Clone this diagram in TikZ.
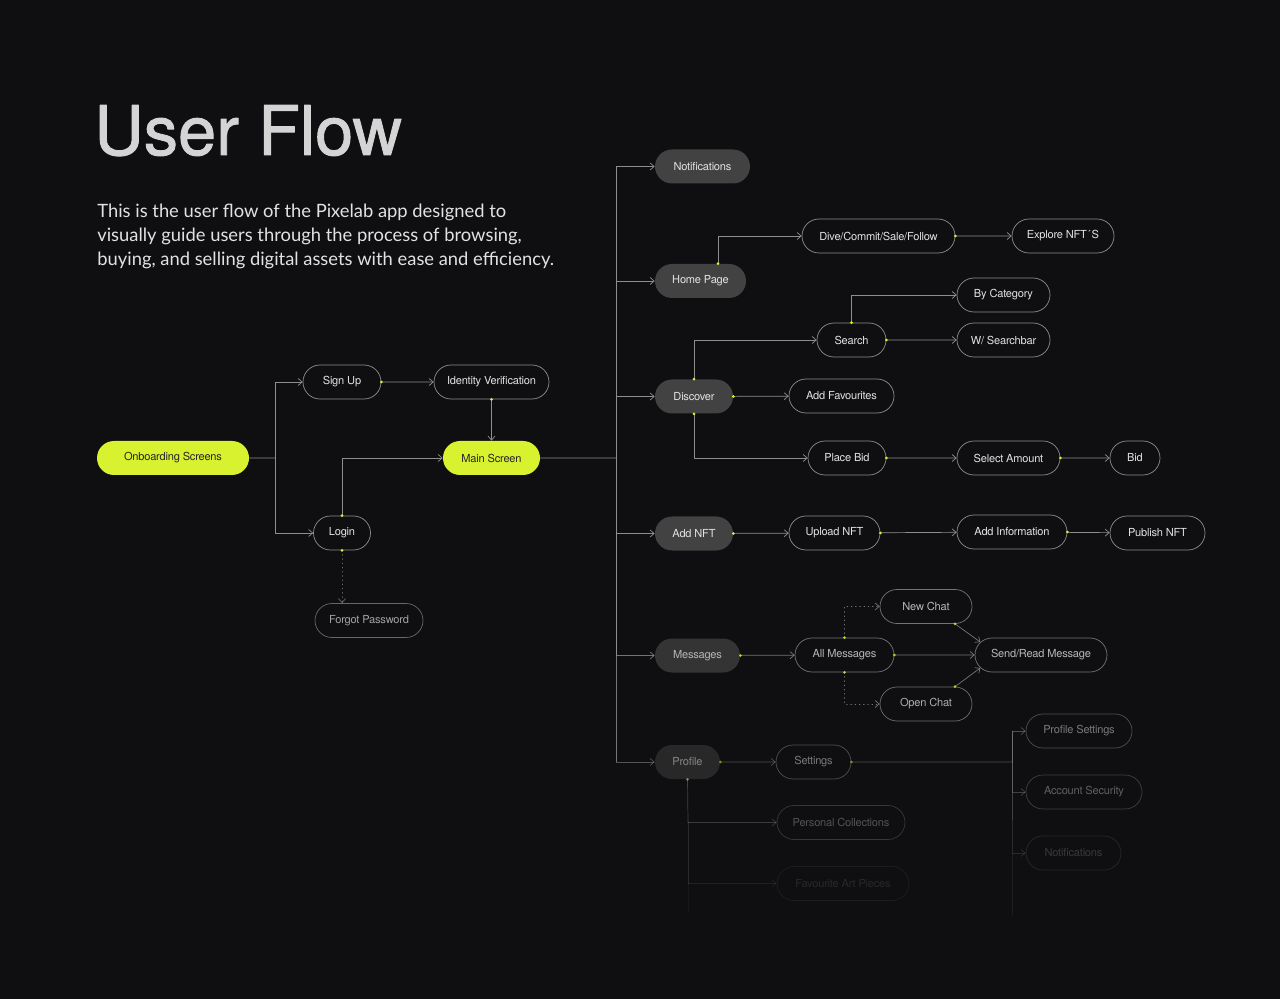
\documentclass[tikz,border=0pt]{standalone}
\usepackage{fontspec}
\setmainfont{TeX Gyre Heros}
\newfontfamily\bodyfont{Lato}
\newfontfamily\titlefont[FakeBold=1.3]{TeX Gyre Heros}
\newfontfamily\pillfont[LetterSpace=-2]{TeX Gyre Heros}
\usetikzlibrary{arrows.meta,shapes.misc}
\definecolor{bgdark}{HTML}{0F0E10}
\definecolor{lime}{HTML}{D9F230}
\definecolor{pillgray}{HTML}{424242}
\definecolor{edgegray}{HTML}{8E8E8E}
\definecolor{txtlight}{HTML}{E2E2E2}
\definecolor{titlegray}{HTML}{D4D4D4}
\newcommand\srcdot[1]{\fill[lime] (#1) circle (0.3mm);}
\begin{document}
\begin{tikzpicture}[x=0.2mm, y=-0.2mm, line join=round, line cap=round,
  pill/.style={shape=rounded rectangle, draw=edgegray, line width=.4pt,
    minimum height=6.8mm, minimum width=#1*0.2mm, inner sep=0pt,
    text=txtlight, font=\pillfont\fontsize{6.3}{7}\selectfont},
  limepill/.style={pill=#1, draw=none, fill=lime, text=black!85},
  graypill/.style={pill=#1, draw=none, fill=pillgray},
  link/.style={draw=edgegray, line width=.4pt, -{Straight Barb[length=0.8mm, width=1.4mm]}},
  plain/.style={draw=edgegray, line width=.4pt},
  dotlink/.style={link, dotted},
  dim/.style={opacity=#1}]
\fill[bgdark] (0,0) rectangle (1280,999);
\useasboundingbox (0,0) rectangle (1280,999);

\node[anchor=base west, inner sep=0pt, text=titlegray, font=\titlefont\fontsize{39}{40}\selectfont] (title) at (94,155) {User Flow};
\node[anchor=north west, inner sep=0pt, align=left, text=txtlight, font=\bodyfont\fontsize{10.45}{13.6}\selectfont] (intro) at (97,204)
  {This is the user flow of the Pixelab app designed to\\visually guide users through the process of browsing,\\buying, and selling digital assets with ease and efficiency.};

% onboarding
\node[limepill=152] (onboard) at (173,458) {Onboarding Screens};
\node[pill=78] (signup) at (342,382) {Sign Up};
\node[pill=115] (ident) at (491.5,382) {Identity Verification};
\node[limepill=97] (mainscr) at (491.5,458) {Main Screen};
\node[pill=57] (login) at (342,533) {Login};
\node[pill=108, dim=.7] (forgot) at (369,620.5) {Forgot Password};
\coordinate (split1) at (275,458);
\draw[plain] (onboard) -- (split1);
\draw[link] (split1) |- (signup);
\draw[link] (split1) |- (login);
\draw[link] (signup) -- (ident);
\draw[link] (ident) -- (mainscr);
\draw[link] (login.north) |- (mainscr);
\draw[dotlink, dim=.7] (login.south) -- (login.south |- forgot.north);
\srcdot{signup.east}
\srcdot{ident.south}
\srcdot{login.north}
\srcdot{login.south}

% main trunk
\node[graypill=95] (notif) at (702.5,166.5) {Notifications};
\node[graypill=91] (home) at (700.5,281) {Home Page};
\node[graypill=78] (discover) at (694,396.5) {Discover};
\node[graypill=78] (addnft) at (694,533.5) {Add NFT};
\node[graypill=85, dim=.75] (messages) at (697.5,655.5) {Messages};
\node[graypill=65, dim=.5] (profile) at (687.5,762) {Profile};
\coordinate (split2) at (616,458);
\draw[plain] (mainscr) -- (split2);
\draw[plain] (616,166.5) -- (616,655.5);
\draw[plain, dim=.6] (616,655.5) -- (616,762);
\draw[link] (split2) |- (notif);
\draw[link] (split2) |- (home);
\draw[link] (split2) |- (discover);
\draw[link] (split2) |- (addnft);
\draw[link, dim=.8] (split2) |- (messages);
\draw[link, dim=.55] (split2) |- (profile);

% home page
\node[pill=153] (dive) at (878.5,236) {Dive/Commit/Sale/Follow};
\node[pill=102] (explore) at (1063,236) {Explore NFT\,\'{}S};
\draw[link] ([xshift=3.5mm]home.north) |- (dive);
\draw[link] (dive) -- (explore);
\srcdot{[xshift=3.5mm]home.north}
\srcdot{dive.east}

% discover
\node[pill=69] (search) at (851.5,340) {Search};
\node[pill=93] (bycat) at (1003.5,295) {By Category};
\node[pill=93] (searchbar) at (1003.5,340) {W/ Searchbar};
\node[pill=105] (addfav) at (841.5,396) {Add Favourites};
\node[pill=78] (placebid) at (847,458) {Place Bid};
\node[pill=103] (selamount) at (1008.5,458) {Select Amount};
\node[pill=50] (bid) at (1135,458) {Bid};
\draw[link] (discover.north) |- (search);
\draw[link] (search.north) |- (bycat);
\draw[link] (search) -- (searchbar);
\draw[link] (discover) -- (addfav);
\draw[link] (discover.south) |- (placebid);
\draw[link] (placebid) -- (selamount);
\draw[link] (selamount) -- (bid);
\srcdot{discover.north}
\srcdot{discover.east}
\srcdot{discover.south}
\srcdot{search.north}
\srcdot{search.east}
\srcdot{placebid.east}
\srcdot{selamount.east}

% add nft
\node[pill=91] (upload) at (834.5,533) {Upload NFT};
\node[pill=110] (addinfo) at (1012,532) {Add Information};
\node[pill=95] (publish) at (1157.5,533) {Publish NFT};
\draw[link] (addnft) -- (upload);
\draw[link] (upload) -- (addinfo);
\draw[link] (addinfo) -- (publish);
\srcdot{addnft.east}
\srcdot{upload.east}
\srcdot{addinfo.east}

% messages
\begin{scope}[dim=.8]
\node[pill=99] (allmsg) at (844.5,655) {All Messages};
\node[pill=92] (newchat) at (926,606.5) {New Chat};
\node[pill=92, dim=.75] (openchat) at (926,704) {Open Chat};
\node[pill=132] (sendread) at (1041,655) {Send/Read Message};
\draw[link] (messages) -- (allmsg);
\draw[link] (allmsg) -- (sendread);
\draw[dotlink] (allmsg.north) |- (newchat);
\draw[dotlink] (allmsg.south) |- (openchat);
\draw[link] (newchat.south east) -- (sendread.168);
\draw[link] (openchat.north east) -- (sendread.192);
\srcdot{messages.east}
\srcdot{allmsg.east}
\srcdot{allmsg.north}
\srcdot{allmsg.south}
\srcdot{newchat.south east}
\srcdot{openchat.north east}
\end{scope}

% profile
\node[pill=75, dim=.5] (settings) at (813.5,762) {Settings};
\node[pill=106, dim=.5] (profset) at (1079,731) {Profile Settings};
\node[pill=116, dim=.38] (accsec) at (1084,792) {Account Security};
\node[pill=95, dim=.2] (notif2) at (1073.5,853) {Notifications};
\node[pill=128, dim=.32] (perscoll) at (841,822.5) {Personal Collections};
\node[pill=132, dim=.12] (favart) at (843,883.5) {Favourite Art Pieces};
\coordinate (split3) at (1012,762);
\draw[link, dim=.5] (profile) -- (settings);
\draw[plain, dim=.5] (settings) -- (split3);
\draw[plain, dim=.5] (1012,731) -- (split3);
\draw[link, dim=.5] (split3) |- (profset);
\draw[link, dim=.4] (split3) |- (accsec);
\draw[plain, dim=.4] (split3) -- (1012,820);
\draw[link, dim=.22] (1012,820) |- (notif2);
\draw[plain, dim=.12] (1012,853) -- (1012,915);
\draw[plain, dim=.4] (profile.south) -- (688,822.5);
\draw[link, dim=.35] (688,822.5) -- (perscoll);
\draw[plain, dim=.22] (688,822.5) -- (688,883.5);
\draw[link, dim=.15] (688,883.5) -- (favart);
\draw[plain, dim=.08] (688,883.5) -- (688,912);
\begin{scope}[dim=.5]
\srcdot{profile.east}
\srcdot{settings.east}
\srcdot{profile.south}
\end{scope}
\end{tikzpicture}
\end{document}
